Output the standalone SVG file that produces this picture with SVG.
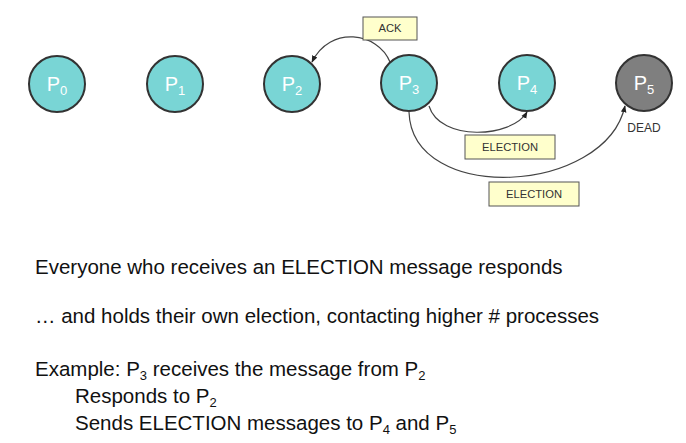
<svg xmlns="http://www.w3.org/2000/svg" width="686" height="443" viewBox="0 0 686 443">
<style>
.node{fill:#79d5d5;stroke:#333;stroke-width:2}
.dead{fill:#7f7f7f;stroke:#333;stroke-width:2}
.nl{font-family:"Liberation Sans",Arial,sans-serif;font-size:20px;fill:#fff;text-anchor:middle}
.sub{font-size:13px}
.conn{fill:none;stroke:#444;stroke-width:1.2}
.box{fill:#ffffcc;stroke:#555;stroke-width:1}
.bl{font-family:"Liberation Sans",Arial,sans-serif;font-size:11.2px;fill:#333;text-anchor:middle}
.dl{font-family:"Liberation Sans",Arial,sans-serif;font-size:12px;fill:#333;text-anchor:middle}
.body{font-family:"Liberation Sans",Arial,sans-serif;font-size:20.5px;fill:#111}
.bsub{font-size:13px}
</style>
<defs>
<marker id="ah" viewBox="0 0 10 10" refX="9" refY="5" markerWidth="7" markerHeight="7" orient="auto" markerUnits="userSpaceOnUse">
<path d="M0,1 L10,5 L0,9 z" fill="#222"/>
</marker>
</defs>
<g id="connectors">
<path class="conn" d="M390,62 C378,32 330,25 312,62" marker-end="url(#ah)"/>
<path class="conn" d="M429,106 C440,142 512,138 527,112" marker-end="url(#ah)"/>
<path class="conn" d="M409,112 C412,205 605,195 625,106" marker-end="url(#ah)"/>
</g>
<g id="P0"><circle class="node" cx="57" cy="84" r="28"/><text class="nl" x="57" y="91">P<tspan class="sub" dy="4">0</tspan></text></g>
<g id="P1"><circle class="node" cx="175" cy="84" r="28"/><text class="nl" x="175" y="91">P<tspan class="sub" dy="4">1</tspan></text></g>
<g id="P2"><circle class="node" cx="292" cy="84" r="28"/><text class="nl" x="292" y="91">P<tspan class="sub" dy="4">2</tspan></text></g>
<g id="P3"><circle class="node" cx="409" cy="83" r="28"/><text class="nl" x="409" y="90">P<tspan class="sub" dy="4">3</tspan></text></g>
<g id="P4"><circle class="node" cx="527" cy="83" r="28"/><text class="nl" x="527" y="90">P<tspan class="sub" dy="4">4</tspan></text></g>
<g id="P5"><circle class="dead" cx="644" cy="83" r="28"/><text class="nl" x="644" y="90">P<tspan class="sub" dy="4">5</tspan></text>
<text class="dl" x="644" y="132">DEAD</text></g>
<g id="ack"><rect class="box" x="363" y="17" width="54" height="23"/><text class="bl" x="390" y="32">ACK</text></g>
<g id="election1"><rect class="box" x="465" y="135" width="90" height="24"/><text class="bl" x="510" y="151">ELECTION</text></g>
<g id="election2"><rect class="box" x="489" y="182" width="90" height="24"/><text class="bl" x="534" y="198">ELECTION</text></g>
<g id="text">
<text class="body" x="35" y="274">Everyone who receives an ELECTION message responds</text>
<text class="body" x="35" y="323">… and holds their own election, contacting higher # processes</text>
<text class="body" x="35" y="376">Example: P<tspan class="bsub" dy="4">3</tspan><tspan dy="-4"> receives the message from P</tspan><tspan class="bsub" dy="4">2</tspan></text>
<text class="body" x="75" y="403">Responds to P<tspan class="bsub" dy="4">2</tspan></text>
<text class="body" x="75" y="430">Sends ELECTION messages to P<tspan class="bsub" dy="4">4</tspan><tspan dy="-4"> and P</tspan><tspan class="bsub" dy="4">5</tspan></text>
</g>
</svg>
